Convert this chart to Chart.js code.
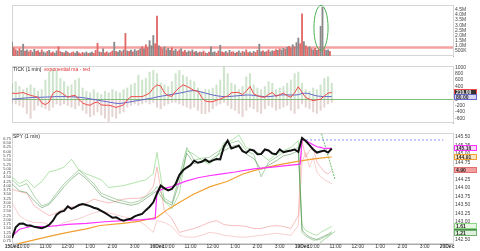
<!DOCTYPE html>
<html><head><meta charset="utf-8">
<script src="https://cdn.jsdelivr.net/npm/chart.js@4/dist/chart.umd.min.js"></script>
<style>
html,body{margin:0;padding:0;background:#fff;width:480px;height:251px;overflow:hidden}
canvas{position:absolute;left:0}
</style></head><body>
<canvas id="c1" width="480" height="61" style="top:0;width:480px;height:61px"></canvas>
<canvas id="c2" width="480" height="67" style="top:61px;width:480px;height:67px"></canvas>
<canvas id="c3" width="480" height="123" style="top:128px;width:480px;height:123px"></canvas>
<script>
// ---------------- DATA ----------------
// x axis = trading minutes since 15Dec 9:30 (390 minutes per session)
const xTickMinutes = [0,30,90,150,210,270,330,390,420,480,540,600,660,720,780,810,870,930,990,1050,1110,1170];
const xTickLabels  = ['15Dec','10:00','11:00','12:00','1:00','2:00','3:00','16Dec','10:00','11:00','12:00','1:00','2:00','3:00','19Dec','10:00','11:00','12:00','1:00','2:00','3:00','20Dec'];

// Volume (millions), one bar every 5 minutes
const volStep = 5;
const volume = [
 1.35,0.80,0.62,0.50,0.72,0.55,1.15,0.48,0.60,0.42,0.55,0.38,0.65,0.45,0.52,0.35,0.60,0.40,0.30,0.45,
 0.55,0.32,0.40,0.28,0.50,0.90,0.42,0.35,0.30,0.48,0.38,0.25,0.33,0.40,0.28,0.45,0.30,0.22,0.35,0.28,
 0.40,0.25,0.30,0.38,0.27,0.55,1.25,0.40,0.35,0.70,0.30,0.42,0.28,0.36,0.50,1.35,0.45,0.38,0.55,0.42,
 0.60,2.20,0.50,0.45,0.58,0.40,0.62,0.48,0.55,0.70,0.90,0.70,1.10,0.80,1.50,1.00,2.00,1.20,
 3.90,1.00,0.85,0.70,0.90,0.60,0.75,0.55,0.80,0.50,0.65,0.45,0.60,0.70,0.40,0.55,0.35,0.50,0.42,0.60,
 0.38,0.45,0.30,0.40,0.35,0.48,0.30,0.25,0.38,0.90,0.35,0.42,0.28,0.50,1.05,0.40,0.33,0.45,0.30,0.55,
 0.38,0.42,0.28,0.35,0.50,0.30,0.45,0.38,0.60,0.33,0.40,0.28,0.45,0.35,0.55,1.15,0.42,0.50,0.38,0.45,
 0.60,0.40,0.52,0.48,0.62,0.55,0.70,0.58,0.75,0.65,0.85,0.95,0.80,1.10,0.90,1.30,1.75,1.20,
 4.10,1.40,1.00,0.80,0.90,0.70,0.60,0.75,0.55,0.65,2.90,4.75,0.70,0.55,0.60,0.45];
const volDir =
 'udduduudud'+'duudduduud'+'udduuddudu'+'dudduudddu'+'uduudddudu'+'ddudduduud'+'udududuudu'+'dudduuud'+
 'dudduduudu'+'uddudduudu'+'duududdudu'+'uudduddudu'+'dduduududd'+'ududduudud'+'duudduduud'+'udduduud'+
 'duddududud'+'uuduud';
const volAvg = 0.84;
const volTicks = [0.5,1.0,1.5,2.0,2.5,3.0,3.5,4.0,4.5];
const volMark = [812, 850, 0.55, 4.93]; // ellipse around the spike: minutes from-to, volume from-to

// TICK (1 min), sampled every 10 minutes
const priceStep = 10;
const tickHigh = [500,550,400,300,350,450,350,250,300,600,850,950,900,650,550,400,450,600,650,350,
 250,200,300,200,150,250,200,300,250,200,300,350,450,500,750,600,650,850,900,
 800,500,450,400,550,800,900,750,700,600,550,350,250,300,300,350,450,600,1000,800,
 500,450,300,400,700,800,450,350,300,400,550,500,300,350,400,500,600,800,850,
 500,300,250,350,300,450,650,700,500];
const tickLow = [-100,-150,-200,-250,-450,-600,-350,-200,-250,-300,-350,-250,-150,-200,-150,-200,-250,-300,-200,-350,
 -450,-550,-500,-400,-500,-600,-700,-550,-600,-450,-400,-250,-200,-150,-200,-150,-100,-150,-100,
 -250,-300,-200,-150,-100,-100,-150,-200,-250,-300,-250,-350,-450,-450,-400,-300,-200,-150,-100,-200,
 -300,-350,-450,-550,-350,-250,-300,-400,-450,-300,-200,-250,-350,-300,-250,-200,-350,-450,-300,
 -150,-250,-300,-400,-450,-350,-250,-150,-100];
const tickEma = [190,180,190,210,160,120,90,60,-120,-170,-90,180,260,220,140,60,100,120,-10,-120,
 -170,-190,-120,-90,-180,-190,-190,-220,-260,-220,-180,-20,80,80,80,80,130,190,350,
 450,410,200,110,90,250,360,450,400,340,270,250,60,-60,-80,-80,-30,0,60,100,
 200,210,210,140,250,400,170,110,70,60,150,210,90,140,190,110,60,200,390,
 210,50,0,-50,-20,0,100,190,210];
const tickMa = [0,10,20,30,40,50,55,60,60,65,70,75,80,80,80,80,75,70,60,50,
 30,10,-10,-30,-50,-70,-90,-110,-130,-135,-120,-100,-80,-60,-40,-20,0,20,40,
 70,90,110,130,150,170,190,210,240,260,270,250,220,190,160,130,110,90,80,80,
 90,100,110,120,130,130,120,100,90,80,80,90,110,130,135,135,130,130,140,
 180,190,170,130,100,90,80,80,80];
const tickTicks = [-600,-400,-200,0,200,400,600,800,1000];

// SPY (1 min) price, sampled every 10 minutes
const spyPrice = [142.53,142.85,142.95,142.96,142.90,142.90,142.86,142.84,142.82,142.86,
 142.92,143.04,143.22,143.30,143.33,143.46,143.39,143.44,143.50,143.53,
 143.50,143.47,143.42,143.39,143.33,143.27,143.20,143.13,143.14,143.08,
 143.04,143.08,143.10,143.17,143.21,143.24,143.35,143.45,143.58,143.84,
 144.07,143.99,143.93,143.97,144.12,144.38,144.52,144.60,144.67,144.80,
 144.74,144.77,144.84,144.76,144.81,144.85,144.84,145.22,145.39,145.16,
 145.20,145.24,145.08,145.03,145.13,145.10,144.99,145.00,145.13,145.10,
 145.01,144.99,145.13,145.05,145.08,145.10,145.13,145.06,
 145.47,145.38,145.26,145.13,145.04,145.07,145.10,145.04,145.16];
const vwapTimes = [0,20,50,100,150,200,250,300,350,385,390,410,430,450,470,500,530,560,600,650,700,750,775,780,790,800,810,820,830,840,850,860];
const vwapVals  = [142.59,142.79,142.87,142.87,142.93,142.96,143.01,143.04,143.07,143.10,
 143.90,143.99,144.04,144.13,144.21,144.30,144.36,144.41,144.47,144.56,144.61,144.67,144.70,
 145.41,145.39,145.33,145.27,145.21,145.19,145.16,145.16,145.16];
const maTimes = [15,60,100,150,200,237,298,340,390,420,443,487,533,578,621,667,713,756,802,847,860];
const maVals  = [142.36,142.48,142.58,142.70,142.80,142.90,142.96,143.02,143.14,143.38,143.53,143.81,144.04,144.19,144.41,144.56,144.67,144.76,144.84,144.90,144.91];
const resistTimes = [780,1160];
const resistLevel = 145.41;
const trendATimes = [828,869];
const trendAVals  = [145.76,144.24];
const trendBTimes = [828,869];
const trendBVals  = [142.39,142.73];

// thin indicator lines (left axis)
const thinTimes = [0,20,40,60,80,100,120,140,160,180,200,220,240,260,280,300,320,340,360,380,
 390,410,430,450,470,490,510,530,550,570,590,610,630,650,670,690,710,730,750,770,
 780,790,800,810,820,830,840,850,860];
const green1 = [4.52,4.12,4.35,3.89,4.24,4.81,4.92,5.09,5.55,4.92,4.69,4.52,4.35,3.89,3.95,4.01,4.12,4.24,4.35,4.70,
 5.95,3.09,2.64,3.55,6.06,5.84,5.49,5.26,5.66,6.52,6.64,6.98,6.24,6.06,5.84,5.49,5.84,6.06,6.24,6.64,
 1.66,1.38,1.26,1.15,1.09,1.26,1.38,1.49,1.61];
const green2 = [4.35,3.95,4.12,3.38,2.81,2.98,3.55,4.12,4.52,4.92,4.52,4.12,3.55,3.38,3.21,3.09,2.98,3.09,3.38,3.66,
 3.95,3.26,2.98,4.52,6.24,5.49,5.61,5.66,5.95,6.24,6.52,6.64,6.06,5.84,4.52,5.38,5.66,5.95,6.06,6.24,
 1.26,1.04,0.92,0.81,0.81,0.86,0.98,1.09,1.21];
const green3 = [4.10,3.70,3.60,3.10,2.70,2.90,3.40,3.95,4.40,4.75,4.40,3.95,3.40,3.20,3.05,2.95,2.85,2.95,3.25,3.55,
 3.70,3.10,2.85,4.20,5.90,5.30,5.40,5.45,5.75,6.05,6.30,6.40,5.85,5.60,4.95,5.20,5.45,5.75,5.85,6.05,
 1.40,1.15,1.00,0.90,0.85,0.95,1.05,1.15,1.30];
const red1 = [3.78,3.66,3.55,2.81,2.52,2.24,2.41,2.64,2.75,2.81,2.98,3.21,3.09,2.98,3.09,3.21,3.26,3.26,3.38,3.95,
 5.09,2.52,2.06,1.26,1.38,1.49,1.66,1.84,1.95,1.72,1.66,1.66,1.61,1.49,1.49,1.61,1.66,1.61,1.49,2.24,
 6.64,5.66,6.06,6.24,5.38,5.09,4.81,4.69,4.90];
const red2 = [2.98,2.24,1.95,1.84,1.84,1.72,1.61,1.84,1.95,2.06,2.24,2.41,2.52,2.41,2.29,2.18,2.06,1.95,1.66,1.26,
 1.95,1.84,1.61,1.09,0.98,0.98,1.09,1.26,1.21,1.09,1.04,0.98,0.98,1.04,1.09,1.15,1.21,1.15,1.09,1.66,
 5.38,5.95,5.09,5.66,4.81,4.52,4.35,4.24,4.12];
const priceTicks = [142.50,142.75,143.00,143.25,143.50,143.75,144.00,144.25,144.50,144.75,145.00,145.25,145.50];
const leftTicks = [0.75,1.00,1.25,1.50,1.75,2.00,2.25,2.50,2.75,3.00,3.25,3.50,3.75,4.00,4.25,4.50,4.75,5.00,5.25,5.50,5.75,6.00,6.25,6.50,6.75];

// ---------------- CHARTS ----------------
const fam = "'Liberation Sans', Arial, sans-serif";
Chart.defaults.font.family = fam;
Chart.defaults.font.size = 5;
Chart.defaults.color = '#333';
Chart.defaults.animation = false;
Chart.defaults.responsive = false;
Chart.defaults.maintainAspectRatio = false;
Chart.defaults.devicePixelRatio = 1;
Chart.defaults.plugins.legend.display = false;
Chart.defaults.plugins.tooltip.enabled = false;
Chart.defaults.elements.point.radius = 0;
Chart.defaults.elements.line.tension = 0;

const XMAX = 1186;
const pts = (ts, vs) => ts.map((t, i) => ({x: t, y: vs[i]}));
const t5 = volume.map((_, i) => i * volStep);
const t10 = spyPrice.map((_, i) => i * priceStep);

const framePlugin = {
  id: 'frame',
  beforeDatasetsDraw(chart) {
    const a = chart.chartArea, c = chart.ctx;
    c.save(); c.strokeStyle = '#d6d6d6'; c.lineWidth = 1;
    c.strokeRect(Math.round(a.left) + 0.5, Math.round(a.top) + 0.5, Math.round(a.right - a.left), Math.round(a.bottom - a.top) - 1);
    c.restore();
  }
};
const titlePlugin = {
  id: 'panelTitle',
  afterDraw(chart, args, opts) {
    if (!opts.parts) return;
    const c = chart.ctx; let x = chart.chartArea.left + 1; const y = chart.chartArea.top + 1;
    c.save(); c.textBaseline = 'top'; c.font = '5px ' + fam;
    opts.parts.forEach(p => { c.fillStyle = p[1]; c.fillText(p[0], x, y); x += c.measureText(p[0]).width + 3; });
    c.restore();
  }
};
const tagPlugin = {
  id: 'tags',
  afterDraw(chart) {
    const c = chart.ctx, x0 = chart.chartArea.right + 1;
    chart.data.datasets.forEach(ds => {
      if (!ds.tag) return;
      const last = ds.data[ds.data.length - 1];
      const y = Math.round(chart.scales[ds.yAxisID || 'y'].getPixelForValue(last.y));
      c.save();
      c.fillStyle = ds.tag.bg; c.fillRect(x0, y - 3, 23, 6);
      c.strokeStyle = ds.tag.stroke; c.lineWidth = 1; c.strokeRect(x0 + 0.5, y - 2.5, 22, 5);
      c.fillStyle = ds.tag.fg; c.font = 'bold 5px ' + fam; c.textBaseline = 'middle';
      c.fillText(last.y.toFixed(2), x0 + 2, y + 0.5);
      c.restore();
    });
  }
};
const ellipsePlugin = {
  id: 'markEllipse',
  afterDatasetsDraw(chart, args, opts) {
    if (!opts.box) return;
    const xs = chart.scales.x, ys = chart.scales.y, c = chart.ctx;
    const x1 = xs.getPixelForValue(opts.box[0]), x2 = xs.getPixelForValue(opts.box[1]);
    const y1 = ys.getPixelForValue(opts.box[2]), y2 = ys.getPixelForValue(opts.box[3]);
    c.save(); c.beginPath();
    c.ellipse((x1 + x2) / 2, (y1 + y2) / 2, Math.abs(x2 - x1) / 2, Math.abs(y2 - y1) / 2, 0, 0, Math.PI * 2);
    c.strokeStyle = opts.color; c.lineWidth = 1; c.stroke(); c.restore();
  }
};

function hiddenX() { return {type: 'linear', min: 0, max: XMAX, offset: false, display: false, bounds: 'data'}; }
function rightAxis(min, max, ticks, fmt, extra) {
  return Object.assign({
    position: 'right', min, max, bounds: 'data',
    afterBuildTicks: s => { s.ticks = ticks.map(v => ({value: v})); },
    afterFit: s => { s.width = 27; },
    ticks: {autoSkip: false, padding: 2, font: {size: 5}, color: '#444', callback: fmt},
    grid: {display: false, drawTicks: false},
    border: {display: true, color: '#aaaaaa'}
  }, extra || {});
}

// 1) Volume
new Chart(document.getElementById('c1'), {
  type: 'bar',
  data: {datasets: [
    {type: 'bar', data: pts(t5, volume), grouped: false, barThickness: 1.2, borderWidth: 0,
     backgroundColor: ctx => volDir[ctx.dataIndex] === 'd' ? '#e06a6a' : '#8a8a8a'},
    {type: 'line', data: pts([0, XMAX], [volAvg, volAvg]), borderColor: 'rgba(240,110,110,0.65)', borderWidth: 2.5}
  ]},
  options: {
    layout: {padding: {left: 12, top: 3, right: 0, bottom: 0}},
    scales: {x: hiddenX(), y: rightAxis(0, 4.97, volTicks, v => v >= 1 ? v.toFixed(1) + 'M' : Math.round(v * 1000) + 'K')},
    plugins: {markEllipse: {box: volMark, color: '#4caf50'}}
  },
  plugins: [framePlugin, ellipsePlugin]
});

// 2) TICK
new Chart(document.getElementById('c2'), {
  type: 'bar',
  data: {datasets: [
    {type: 'line', data: pts(t10, tickEma), borderColor: '#f04848', borderWidth: 1,
     tag: {bg: '#333', fg: '#fff', stroke: '#f04848'}},
    {type: 'line', data: pts(t10, tickMa), borderColor: '#6464c8', borderWidth: 1,
     tag: {bg: '#d8d8f4', fg: '#222', stroke: '#6464c8'}},
    {type: 'bar', data: pts(t10, tickHigh.map(h => [0, h])), grouped: false, barThickness: 1.4, borderWidth: 0,
     backgroundColor: 'rgba(130,185,120,0.38)'},
    {type: 'bar', data: pts(t10, tickLow.map(l => [l, 0])), grouped: false, barThickness: 1.4, borderWidth: 0,
     backgroundColor: 'rgba(175,125,115,0.32)'}
  ]},
  options: {
    layout: {padding: {left: 12, top: 0, right: 0, bottom: 0}},
    scales: {x: hiddenX(), y: rightAxis(-747, 1040, tickTicks, v => String(v), {
      grid: {display: true, drawTicks: false, lineWidth: 1,
             color: ctx => ctx.tick && ctx.tick.value === 0 ? '#7cc07c' : 'rgba(0,0,0,0)'}})},
    plugins: {panelTitle: {parts: [['TICK (1 min)', '#222'], ['exponential ma - red', '#e03030']]}}
  },
  plugins: [framePlugin, titlePlugin, tagPlugin]
});

// 3) SPY
const dayLabels = new Set(['15Dec', '16Dec', '19Dec', '20Dec']);
new Chart(document.getElementById('c3'), {
  type: 'line',
  data: {datasets: [
    {data: pts(t10, spyPrice), yAxisID: 'y', borderColor: '#111', borderWidth: 2},
    {data: pts(vwapTimes, vwapVals), yAxisID: 'y', borderColor: '#ff33ff', borderWidth: 1.2,
     tag: {bg: '#fbd8fb', fg: '#222', stroke: '#ff33ff'}},
    {data: pts(maTimes, maVals), yAxisID: 'y', borderColor: '#f0a030', borderWidth: 1.2,
     tag: {bg: '#fde6c4', fg: '#222', stroke: '#f0a030'}},
    {data: pts(resistTimes, [resistLevel, resistLevel]), yAxisID: 'y', borderColor: '#8c8cff', borderWidth: 1, borderDash: [2, 2]},
    {data: pts(trendATimes, trendAVals), yAxisID: 'y', borderColor: '#6cbf6c', borderWidth: 1, borderDash: [2, 1]},
    {data: pts(trendBTimes, trendBVals), yAxisID: 'y', borderColor: '#8ccf8c', borderWidth: 0.8},
    {data: pts(thinTimes, green3), yAxisID: 'yl', borderColor: 'rgba(60,130,60,0.7)', borderWidth: 0.7,
     tag: {bg: '#2f4f2f', fg: '#fff', stroke: '#4a8a4a'}},
    {data: pts(thinTimes, green2), yAxisID: 'yl', borderColor: 'rgba(100,170,100,0.75)', borderWidth: 0.7,
     tag: {bg: '#dff0df', fg: '#222', stroke: '#70b070'}},
    {data: pts(thinTimes, green1), yAxisID: 'yl', borderColor: 'rgba(140,215,130,0.85)', borderWidth: 0.8,
     tag: {bg: '#e8f8e4', fg: '#222', stroke: '#8cd782'}},
    {data: pts(thinTimes, red1), yAxisID: 'yl', borderColor: 'rgba(240,140,140,0.8)', borderWidth: 0.7,
     tag: {bg: '#f4a0a0', fg: '#222', stroke: '#e07070'}},
    {data: pts(thinTimes, red2), yAxisID: 'yl', borderColor: 'rgba(244,170,170,0.8)', borderWidth: 0.7}
  ]},
  options: {
    layout: {padding: {left: 0, top: 2, right: 0, bottom: 0}},
    scales: {
      x: {type: 'linear', min: 0, max: XMAX, offset: false, bounds: 'data',
          afterBuildTicks: s => { s.ticks = xTickMinutes.map(v => ({value: v})); },
          afterFit: s => { s.height = 7; },
          ticks: {autoSkip: false, maxRotation: 0, padding: 0, color: '#333',
                  callback: (v, i) => xTickLabels[i],
                  font: ctx => ({size: 5, weight: (ctx.tick && dayLabels.has(xTickLabels[ctx.index])) ? 'bold' : 'normal'})},
          grid: {display: false, drawTicks: false},
          border: {display: true, color: '#aaaaaa'}},
      y: rightAxis(142.357, 145.614, priceTicks, v => v.toFixed(2)),
      yl: {position: 'left', min: 0.579, max: 7.093, bounds: 'data',
           afterBuildTicks: s => { s.ticks = leftTicks.map(v => ({value: v})); },
           afterFit: s => { s.width = 12; },
           ticks: {autoSkip: false, padding: 1, font: {size: 4}, color: '#444', callback: v => v.toFixed(2)},
           grid: {display: false, drawTicks: false},
           border: {display: true, color: '#cccccc'}}
    },
    plugins: {panelTitle: {parts: [['SPY (1 min)', '#222']]}}
  },
  plugins: [framePlugin, titlePlugin, tagPlugin]
});
</script>
</body></html>
